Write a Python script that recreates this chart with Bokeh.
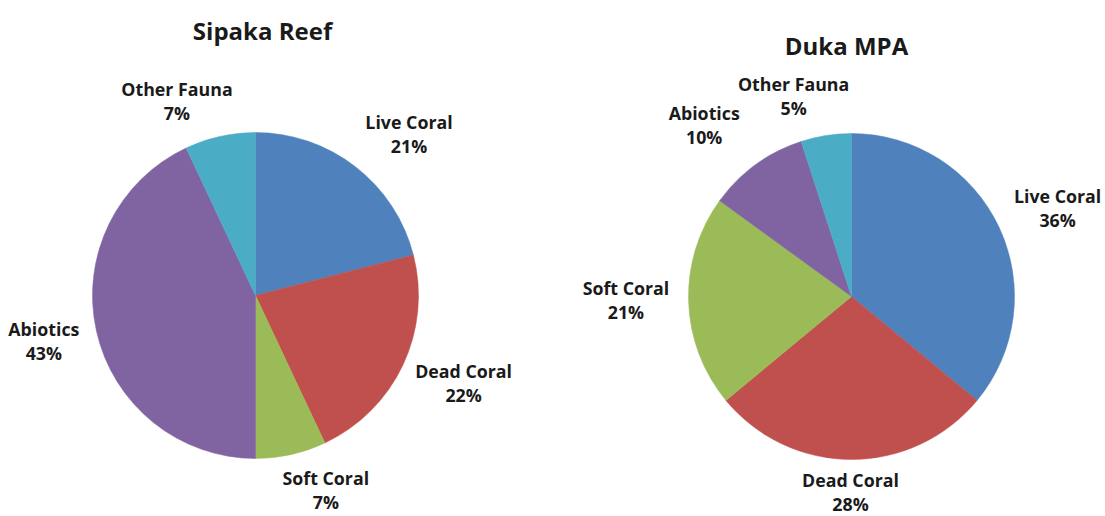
import math
from bokeh.plotting import figure
from bokeh.models import Range1d, ColumnDataSource
from bokeh.core.properties import value
from bokeh.embed import file_html
from bokeh.resources import INLINE

categories = ["Live Coral", "Dead Coral", "Soft Coral", "Abiotics", "Other Fauna"]
sipaka_values = [21, 22, 7, 43, 7]
duka_values = [36, 28, 21, 10, 5]
titles = ["Sipaka Reef", "Duka MPA"]
colors = ["#4F81BD", "#C0504D", "#9BBB59", "#8064A2", "#4BACC6"]

W, H = 1105, 516
p = figure(width=W, height=H, output_backend="svg", toolbar_location=None,
           x_range=Range1d(0, W), y_range=Range1d(0, H), min_border=0)
p.axis.visible = False
p.grid.visible = False
p.outline_line_color = None
p.background_fill_color = "white"

FONT = value("Open Sans")
R = 163
# layout: pie centres, title positions and "best fit" label nudges (screen px, x right / y down)
pies = [
    dict(vals=sipaka_values, cx=255, cy=H - 295, title=titles[0], tx=262, ty=H - 30,
         nudge=[(15, 17), (-1, -11), (24, -13), (4, -3), (-32, 14)]),
    dict(vals=duka_values, cx=851, cy=H - 296, title=titles[1], tx=846, ty=H - 45,
         nudge=[(-3, 10), (-1, -8), (1, -4), (-18, 6), (-25, 7)]),
]

for pie in pies:
    vals = pie["vals"]
    total = float(sum(vals))
    starts, ends, lx, ly, labels = [], [], [], [], []
    cum = 0.0
    for (cat, v), (nx, ny) in zip(zip(categories, vals), pie["nudge"]):
        a0 = cum / total * 2 * math.pi
        a1 = (cum + v) / total * 2 * math.pi
        cum += v
        starts.append(math.pi / 2 - a1)
        ends.append(math.pi / 2 - a0)
        mid = (a0 + a1) / 2
        ux, uy = math.sin(mid), math.cos(mid)
        w = len(cat) * 9.0
        h = 44
        d = R + 18 + abs(ux) * w / 2 + abs(uy) * h / 2
        lx.append(pie["cx"] + d * ux + nx)
        ly.append(pie["cy"] + d * uy - ny)
        labels.append(f"{cat}\n{v}%")
    src = ColumnDataSource(dict(start=starts, end=ends, color=colors))
    p.wedge(x=pie["cx"], y=pie["cy"], radius=R, start_angle="start", end_angle="end",
            direction="anticlock", fill_color="color", line_color="color", line_width=0.5,
            source=src)
    p.text(x=lx, y=ly, text=labels, text_font=FONT, text_font_style="bold",
           text_font_size="17.8px", text_align="center", text_baseline="middle",
           text_line_height=1.0, text_color="#1a1a1a")
    p.text(x=[pie["tx"]], y=[pie["ty"]], text=[pie["title"]], text_font=FONT,
           text_font_style="bold", text_font_size="24px", text_align="center",
           text_baseline="middle", text_color="#1a1a1a")

open("out.html", "w").write(file_html(p, INLINE))
